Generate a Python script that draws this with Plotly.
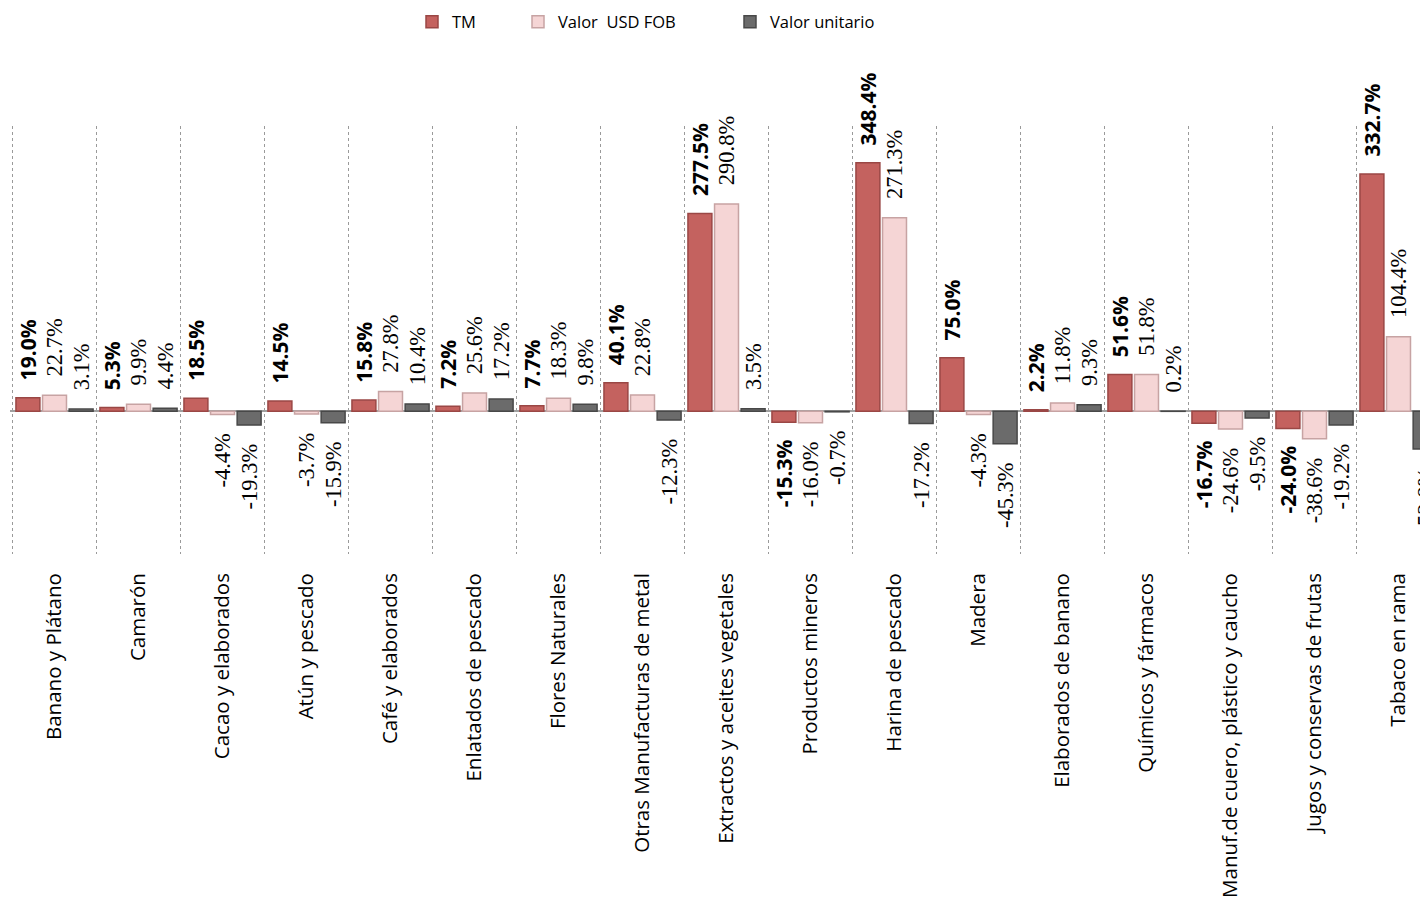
import plotly.graph_objects as go

categories = [
    "Banano y Plátano", "Camarón", "Cacao y elaborados", "Atún y pescado",
    "Café y elaborados", "Enlatados de pescado", "Flores Naturales",
    "Otras Manufacturas de metal", "Extractos y aceites vegetales",
    "Productos mineros", "Harina de pescado", "Madera", "Elaborados de banano",
    "Químicos y fármacos", "Manuf.de cuero, plástico y caucho",
    "Jugos y conservas de frutas", "Tabaco en rama",
]
tm = [19.0, 5.3, 18.5, 14.5, 15.8, 7.2, 7.7, 40.1, 277.5, -15.3, 348.4, 75.0, 2.2, 51.6, -16.7, -24.0, 332.7]
valor_fob = [22.7, 9.9, -4.4, -3.7, 27.8, 25.6, 18.3, 22.8, 290.8, -16.0, 271.3, -4.3, 11.8, 51.8, -24.6, -38.6, 104.4]
valor_unitario = [3.1, 4.4, -19.3, -15.9, 10.4, 17.2, 9.8, -12.3, 3.5, -0.7, -17.2, -45.3, 9.3, 0.2, -9.5, -19.2, -52.8]

PAD = "\u00a0\u00a0\u2009"


def labels(vals):
    out = []
    for v in vals:
        s = f"{v:.1f}%"
        out.append(PAD + s if v >= 0 else s + PAD)
    return out


series = [
    ("TM", tm, "#C4625F", "#9A4745", dict(family="Open Sans", size=21, weight="bold", color="black"), "legend"),
    ("Valor  USD FOB", valor_fob, "#F5D5D5", "#C7A3A3", dict(family="Liberation Serif", size=22.5, color="black"), "legend2"),
    ("Valor unitario", valor_unitario, "#6B6B6B", "#484848", dict(family="Liberation Serif", size=22.5, color="black"), "legend3"),
]

fig = go.Figure()
for name, vals, col, lcol, tfont, lg in series:
    fig.add_trace(go.Bar(
        x=categories, y=vals, name=name,
        marker=dict(color=col, line=dict(color=lcol, width=1.5)),
        text=labels(vals), textposition="outside", textangle=-90,
        textfont=tfont, constraintext="none", cliponaxis=False,
        legend=lg, hoverinfo="skip",
    ))

W, H = 1420, 895
legend_common = dict(orientation="h", xref="container", yref="container",
                     yanchor="middle", xanchor="left", y=1 - 14 / H,
                     font=dict(family="Open Sans", size=16.5, color="black"),
                     bgcolor="rgba(0,0,0,0)", itemwidth=30)

fig.update_layout(
    width=W, height=H,
    margin=dict(l=2, r=0, t=118, b=H - 546),
    paper_bgcolor="white", plot_bgcolor="white",
    barmode="group", bargap=0.05, bargroupgap=0.1,
    showlegend=True,
    legend=dict(x=404 / W, **legend_common),
    legend2=dict(x=510 / W, **legend_common),
    legend3=dict(x=722 / W, **legend_common),
    xaxis=dict(
        type="category", tickson="boundaries", showgrid=True,
        gridcolor="#9A9A9A", griddash="dot", gridwidth=1,
        range=[-0.53, 16.351], tickangle=-90, ticks="",
        tickfont=dict(family="Open Sans", size=20.5, color="black"),
        ticklabelstandoff=14, showline=False, zeroline=False,
    ),
    yaxis=dict(range=[-200, 400], showgrid=False, showticklabels=False,
               zeroline=True, zerolinecolor="#A0A0A0", zerolinewidth=2,
               showline=False),
)

fig.write_html("out.html")
